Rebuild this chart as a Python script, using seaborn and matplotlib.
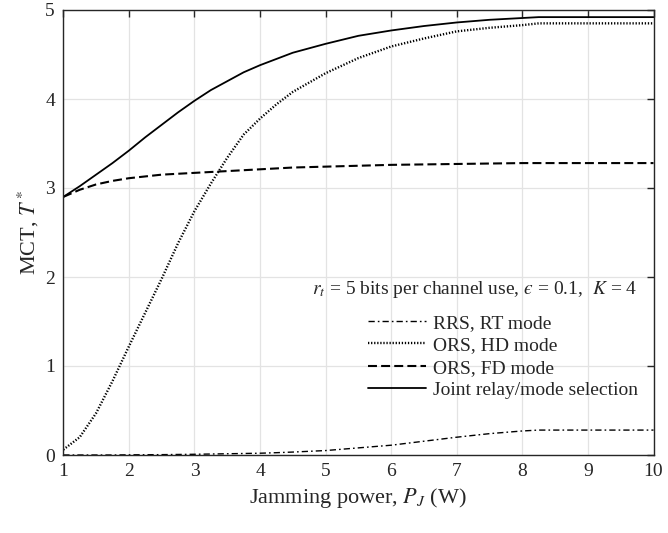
import numpy as np
import pandas as pd
import matplotlib
matplotlib.use("Agg")
import matplotlib.pyplot as plt
import seaborn as sns

# ---- data ----
jam_power = [1, 1.25, 1.5, 1.75, 2, 2.25, 2.5, 2.75, 3, 3.25, 3.5, 3.75, 4, 4.25,
             4.5, 5, 5.5, 6, 6.5, 7, 7.5, 8, 8.25, 9, 10]
rrs_rt = [0, 0, 0, 0, 0.002, 0.003, 0.004, 0.006, 0.008, 0.011, 0.014, 0.017, 0.02, 0.026,
          0.033, 0.05, 0.08, 0.11, 0.155, 0.2, 0.24, 0.27, 0.28, 0.28, 0.28]
ors_hd = [0.06, 0.2, 0.47, 0.83, 1.22, 1.6, 1.98, 2.38, 2.74, 3.05, 3.34, 3.60, 3.78, 3.94,
          4.08, 4.29, 4.46, 4.59, 4.68, 4.76, 4.80, 4.83, 4.85, 4.85, 4.85]
ors_fd = [2.90, 2.98, 3.04, 3.08, 3.11, 3.13, 3.15, 3.16, 3.17, 3.18, 3.19, 3.20, 3.21, 3.22,
          3.23, 3.24, 3.25, 3.26, 3.265, 3.27, 3.275, 3.28, 3.28, 3.28, 3.28]
joint = [2.90, 3.02, 3.15, 3.28, 3.42, 3.57, 3.71, 3.85, 3.98, 4.10, 4.20, 4.30, 4.38, 4.45,
         4.52, 4.62, 4.71, 4.77, 4.82, 4.86, 4.89, 4.91, 4.92, 4.92, 4.92]
series_labels = ["RRS, RT mode", "ORS, HD mode", "ORS, FD mode",
                 "Joint relay/mode selection"]
x_ticks = [1, 2, 3, 4, 5, 6, 7, 8, 9, 10]
y_ticks = [0, 1, 2, 3, 4, 5]

sns.set_style("whitegrid")
plt.rcParams['font.family'] = ['Liberation Serif', 'DejaVu Serif']
plt.rcParams['mathtext.fontset'] = 'stix'

fig = plt.figure(figsize=(6.68, 5.33), dpi=100)
ax = fig.add_axes([63.3 / 668, 78 / 533, (653.5 - 63.3) / 668, (455 - 10) / 533])

styles = [
    dict(lw=1.0, ls=(0, (4.5, 2.2, 1.2, 2.2))),
    dict(lw=1.7, ls=(0, (0.55, 0.75))),
    dict(lw=1.5, ls=(0, (4.3, 2.0))),
    dict(lw=1.3, ls='-'),
]
for vals, lab, st in zip([rrs_rt, ors_hd, ors_fd, joint], series_labels, styles):
    sns.lineplot(x=jam_power, y=vals, ax=ax, color='black', label=lab,
                 linewidth=st['lw'], linestyle=st['ls'])

ax.set_xlim(1, 10)
ax.set_ylim(0, 5)
ax.set_xticks(x_ticks)
ax.set_yticks(y_ticks)
ax.grid(True, color='#e3e3e3', linewidth=0.9)
ax.set_facecolor('white')
for sp in ax.spines.values():
    sp.set_color('#262626')
    sp.set_linewidth(1.0)
    sp.set_visible(True)
ax.tick_params(direction='in', length=5, width=1.0, color='#262626',
               top=True, right=True, labelsize=14, labelcolor='#262626', pad=6)
ax.set_xlabel("Jamming power, $P_J$ (W)", fontsize=16, color='#262626', labelpad=4)
ax.set_ylabel("MCT, $T^*$", fontsize=16, color='#262626', labelpad=3)

leg = ax.legend(title="$r_t$ = 5 bits per channel use, $\u03f5$ = 0.1,  $K$ = 4",
                loc='lower right', bbox_to_anchor=(1.003, 0.086), frameon=False,
                fontsize=14, title_fontsize=14, handlelength=3.0,
                handletextpad=0.35, labelspacing=0.25, alignment='right')
leg._legend_box.sep = 10.5

fig.savefig("out.png", dpi=100, facecolor='white')
